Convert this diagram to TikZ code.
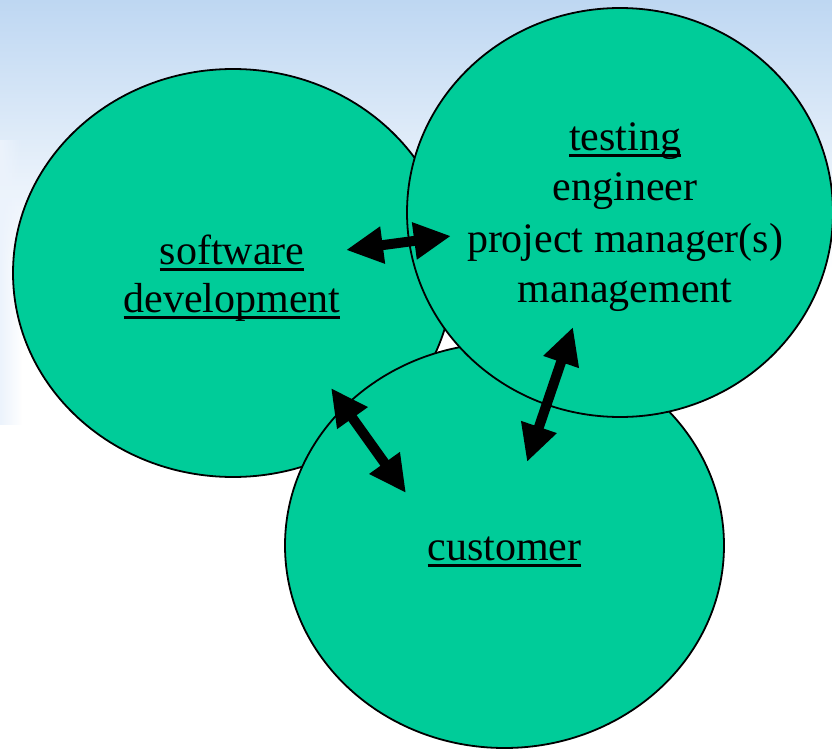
\documentclass[tikz,border=0pt]{standalone}
\usepackage{fontspec}
\setmainfont{Liberation Serif}
\usetikzlibrary{shapes.geometric,arrows.meta,fadings}

\definecolor{blobgreen}{RGB}{0,204,153}
\definecolor{skytop}{RGB}{190,215,242}
\definecolor{skyside}{RGB}{236,243,252}

% underline drawn just below the baseline, crossing the descenders
\newcommand\ulin[1]{\setbox0\hbox{#1}\rlap{\rule[-6.5pt]{\wd0}{2.4pt}}\box0}

\tikzset{
  blob/.style={ellipse, draw=black, line width=1.8pt, fill=blobgreen, inner sep=0pt},
  lbl/.style={anchor=base, inner sep=0pt, font=\fontsize{42}{50}\selectfont},
  link/.style={line width=10pt, {Triangle[length=37pt,width=35pt]}-{Triangle[length=37pt,width=35pt]}}
}

\begin{document}
\begin{tikzpicture}[x=1pt,y=-1pt]
  \useasboundingbox (0,0) rectangle (832,749);
  % slide background
  \fill[white] (0,0) rectangle (832,749);
  \shade[top color=skytop, bottom color=white] (0,0) rectangle (832,270);
  \fill[skyside, path fading=east] (0,140) rectangle (22,425);

  % the three groups
  \node[blob, minimum width=440pt, minimum height=408pt] (dev) at (233,273) {};
  \node[blob, minimum width=439pt, minimum height=405pt] (cust) at (504.5,545.5) {};
  \node[blob, minimum width=426pt, minimum height=409pt] (test) at (620,212.5) {};

  % labels
  \node[lbl] (dev1) at (232,264) {\ulin{software}};
  \node[lbl] (dev2) at (232,312) {\ulin{development}};
  \node[lbl] (test1) at (625,150) {\ulin{testing}};
  \node[lbl] (test2) at (625,200) {engineer};
  \node[lbl] (test3) at (625,252) {project manager(s)};
  \node[lbl] (test4) at (625,302) {management};
  \node[lbl] (cust1) at (504.5,560) {\ulin{customer}};

  % communication arrows
  \coordinate (a1) at (346,250);
  \coordinate (b1) at (451,236);
  \coordinate (a2) at (331,388);
  \coordinate (b2) at (406,493);
  \coordinate (a3) at (573,327);
  \coordinate (b3) at (527,462);
  \draw[link] (a1) -- (b1);
  \draw[link] (a2) -- (b2);
  \draw[link] (a3) -- (b3);
\end{tikzpicture}
\end{document}
